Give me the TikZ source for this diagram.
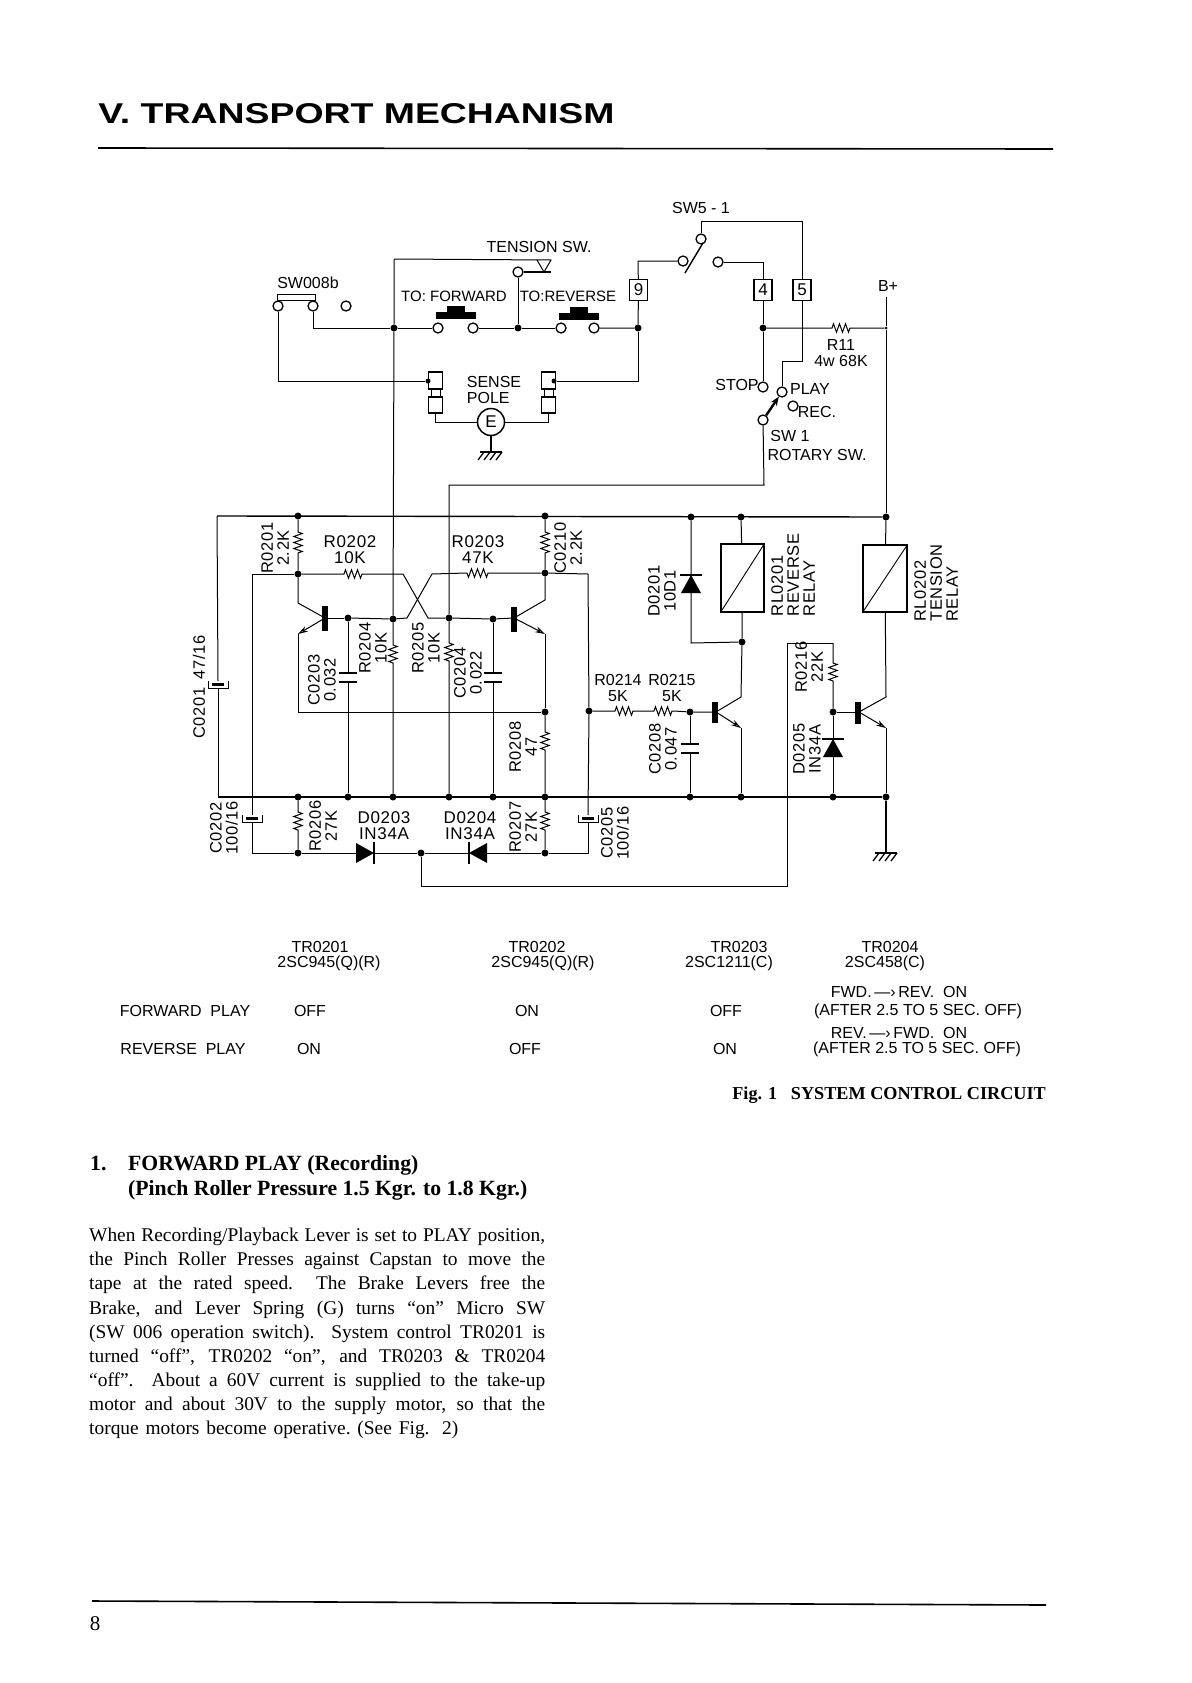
\documentclass[tikz,border=0pt]{standalone}
\usepackage{graphicx}
\usepackage{fontspec}
\setmainfont{Liberation Serif}
\newfontfamily\lettering{Liberation Sans}
\newfontfamily\partletter[LetterSpace=4]{Liberation Sans}
\usetikzlibrary{arrows.meta,decorations.pathmorphing}
\newcommand{\bodyline}[1]{\makebox[456pt][s]{#1}}
\tikzset{
  lab/.style={font=\lettering\fontsize{16}{16}\selectfont,inner sep=0pt,align=center},
  lableft/.style={lab,align=left},
  narrowlab/.style={lab,font=\lettering\fontsize{15}{16}\selectfont},
  partlab/.style={lab,font=\partletter\fontsize{17}{16}\selectfont},
  vlab/.style={lab,font=\partletter\fontsize{16.5}{16}\selectfont,rotate=90},
  vlableft/.style={vlab,align=left},
  tablab/.style={font=\lettering\fontsize{16}{16}\selectfont,inner sep=0pt},
  dot/.style={circle,fill=black,inner sep=0pt,minimum size=7pt},
  contact/.style={circle,draw,fill=white,line width=1.3pt,inner sep=0pt,minimum size=10pt},
  numbox/.style={draw,fill=white,line width=1.2pt,inner sep=0pt,minimum width=18pt,minimum height=21pt,font=\lettering\fontsize{17}{17}\selectfont},
  senseblock/.style={draw,line width=1.2pt,inner sep=0pt,minimum width=14pt,minimum height=17pt},
  relay/.style={draw,line width=1.2pt,inner sep=0pt},
  wire/.style={line width=1pt},
  toprail/.style={line width=1.4pt},
  rail/.style={line width=1.9pt},
  zig/.style={decoration={zigzag,amplitude=4.2pt,segment length=6pt}},
  tbar/.style={line width=5.5pt},
  emit/.style={line width=1pt,-{Stealth[open,length=10pt,width=6pt]}},
  gnd/.pic={
    \draw[line width=1.4pt] (-11,0) -- (11,0);
    \foreach \i in {-7,-1,5,11} \draw[line width=1.3pt] (\i,0) -- ++(-6,8);
  },
  plates/.pic={
    \draw[line width=1.7pt] (-9,0) -- (9,0);
    \draw[line width=1.7pt] (-9,9) -- (9,9);
  },
  polcap/.pic={
    \fill (-6,2) rectangle (6,5);
    \draw[line width=1pt] (-10,0) -- (-10,7) -- (10,7) -- (10,0);
  },
  diode/.pic={
    \fill (0,-9) -- (10,9) -- (-10,9) -- cycle;
    \draw[line width=1.9pt] (-11,-9) -- (11,-9);
  },
  pushbtn/.pic={
    \fill (-20,0) rectangle (20,7);
    \fill (-9,-6) rectangle (9,0);
  },
}
\begin{document}
\begin{tikzpicture}[x=1pt,y=-1pt]
\useasboundingbox (0,0) rectangle (1191,1683);
\fill[white] (0,0) rectangle (1191,1683);

% page head and foot
\node[inner sep=0pt] (title) at (356.5,113.5) {\resizebox{516pt}{20pt}{\lettering\bfseries V. TRANSPORT MECHANISM}};
\coordinate (headL) at (98,148);
\coordinate (headR) at (1053,149);
\draw[line width=1.6pt] (headL) -- (headR);
\coordinate (footL) at (92,1601);
\coordinate (footR) at (1046,1605);
\draw[line width=1.6pt] (footL) -- (footR);
\node[inner sep=0pt,font=\fontsize{21}{21}\selectfont] (pageno) at (95,1624) {8};

% junctions
\node[dot] (tA) at (298,516) {};
\node[dot] (tB) at (545,516) {};
\node[dot] (tC) at (691,517) {};
\node[dot] (tD) at (741,517) {};
\node[dot] (tE) at (886,517) {};
\node[dot] (c1) at (298,574) {};
\node[dot] (c2) at (545,573) {};
\node[dot] (m1) at (348,618) {};
\node[dot] (m2) at (393,619) {};
\node[dot] (m3) at (449,618) {};
\node[dot] (m4) at (493,619) {};
\node[dot] (n1) at (545,712) {};
\node[dot] (n2) at (589,711) {};
\node[dot] (n3) at (690,712) {};
\node[dot] (n4) at (742,642) {};
\node[dot] (n5) at (833,712) {};
\foreach \nm/\px in {b1/298,b2/348,b3/393,b4/449,b5/493,b6/545,b7/690,b8/741,b9/833,b10/886}
  \node[dot] (\nm) at (\px,797) {};
\node[dot] (d1) at (298,853) {};
\node[dot] (d2) at (421,853) {};
\node[dot] (d3) at (545,853) {};
\node[dot] (s1) at (394,328) {};
\node[dot] (s2) at (518,328) {};
\node[dot] (s3) at (638,328) {};
\node[dot] (s4) at (763,328) {};
\node[dot,minimum size=3pt] (s5) at (886,328) {};

% contacts
\node[contact] (swA) at (278,306) {};
\node[contact] (swB) at (313,306) {};
\node[contact] (swC) at (346,306) {};
\node[contact] (fwdA) at (438,328) {};
\node[contact] (fwdB) at (473,328) {};
\node[contact] (revA) at (561,328) {};
\node[contact] (revB) at (594,328) {};
\node[contact] (tens) at (518,272) {};
\node[contact] (fiveA) at (683,261) {};
\node[contact] (fiveB) at (718,262) {};
\node[contact] (fiveC) at (701,239) {};
\node[contact] (stop) at (763,387) {};
\node[contact] (play) at (782,392) {};
\node[contact] (rec) at (793,406) {};
\node[contact] (wiper) at (763,420) {};
\node[numbox] (nine) at (638.5,290) {9};
\node[numbox] (four) at (763,290) {4};
\node[numbox] (five) at (802,290) {5};

% upper switches
\node[draw,fill=white,line width=1pt,inner sep=0pt,minimum width=38pt,minimum height=6pt] (swbar) at (296,297) {};
\pic at (455.5,312) {pushbtn};
\pic at (579,313) {pushbtn};
\coordinate (tenTop) at (394,259);
\coordinate (tenEnd) at (551,272);
\coordinate (triA) at (537,260);
\coordinate (triB) at (551,260);
\coordinate (triC) at (544,272);
\draw[wire] (tenTop) -- (triB) -- (triC) -- (triA);
\draw[line width=1.6pt] (tens) -- (tenEnd);
\draw[wire] (tens) -- (s2);
\draw[wire] (swB) |- (s1) -- (fwdA);
\draw[wire] (fwdB) -- (s2) -- (revA);
\draw[wire] (revB) -- (s3) -- (nine);
\coordinate (nineTop) at (638,261);
\draw[wire] (nine) -- (nineTop) -- (fiveA);
\coordinate (bladeA) at (685,273);
\coordinate (bladeB) at (703,243);
\draw[line width=1.4pt] (bladeA) -- (bladeB);
\coordinate (fiveTop) at (802,221);
\draw[wire] (fiveC) |- (fiveTop) -- (five);
\coordinate (fiveLow) at (802,361);
\coordinate (playTop) at (782,361);
\draw[wire] (five) -- (fiveLow) -- (playTop) -- (play);
\coordinate (fourTop) at (763,262);
\draw[wire] (fiveB) -- (fourTop) -- (four);
\draw[wire] (four) -- (s4) -- (stop);
\draw[wire] (s4) -- ++(69,0) decorate[zig]{ -- ++(20,0)} -- (s5);
\draw[line width=2.4pt,-{Stealth[length=9pt,width=7pt]}] (wiper) -- (play);

% sense pole
\node[senseblock] (poleLa) at (435.5,380.5) {};
\node[senseblock,minimum height=16pt] (poleLb) at (435.5,405) {};
\node[draw,line width=1pt,inner sep=0pt,minimum width=9pt,minimum height=8pt] (poleLn) at (435.5,393) {};
\node[senseblock] (poleRa) at (548.5,380.5) {};
\node[senseblock,minimum height=16pt] (poleRb) at (548.5,405) {};
\node[draw,line width=1pt,inner sep=0pt,minimum width=9pt,minimum height=8pt] (poleRn) at (548.5,393) {};
\node[dot,minimum size=5pt] (poleLd) at (428,381) {};
\node[dot,minimum size=5pt] (poleRd) at (554,381) {};
\node[circle,draw,line width=1.5pt,inner sep=0pt,minimum size=27pt,font=\lettering\fontsize{17}{17}\selectfont] (earth) at (491,422) {E};
\draw[wire] (swA) |- (poleLd);
\draw[wire] (s3) |- (poleRd);
\draw[wire] (poleLb.south) |- (earth);
\draw[wire] (poleRb.south) |- (earth);
\coordinate (gndA) at (491,452);
\draw[line width=1.3pt] (earth) -- (gndA);
\pic at (gndA) {gnd};

% long wires from the top part to the rail
\draw[wire] (tenTop) -- (s1) -- (m2);
\draw[wire] (m2) -- ++(0,26) decorate[zig]{ -- ++(0,19)} -- (b3);
\coordinate (rotCorner) at (764,485);
\coordinate (rotLeft) at (449,485);
\draw[wire] (wiper) -- (rotCorner) -- (rotLeft) -- (m3);
\draw[wire] (m3) -- ++(0,25) decorate[zig]{ -- ++(0,18)} -- (b4);
\coordinate (bplus) at (886,297);
\draw[wire] (bplus) -- (s5) -- (tE);

% supply rails
\coordinate (railL) at (217,516);
\coordinate (railLo) at (218,797);
\draw[toprail] (railL) -- (tE);
\draw[rail] (railLo) -- (b10);
\coordinate (capA) at (218,681);
\coordinate (capAlow) at (218,688);
\draw[wire] (railL) -- (capA);
\draw[wire] (capAlow) -- (railLo);
\pic at (capA) {polcap};

% left and right stage
\draw[wire] (tA) -- ++(0,16) decorate[zig]{ -- ++(0,23)} -- (c1);
\draw[wire] (tB) -- ++(0,16) decorate[zig]{ -- ++(0,23)} -- (c2);
\coordinate (leftEnd) at (252,574);
\coordinate (rightEnd) at (588,574);
\coordinate (crossA) at (403,574);
\coordinate (crossB) at (428,618);
\coordinate (crossC) at (432,574);
\coordinate (crossD) at (407,618);
\draw[wire] (c1) -- ++(46,0) decorate[zig]{ -- ++(20,0)} -- (crossA) -- (crossB) -- (m3) -- (m4);
\draw[wire] (c2) -- ++(-57,0) decorate[zig]{ -- ++(-21,0)} -- (crossC) -- (crossD) -- (m2) -- (m1);
\draw[wire] (leftEnd) -- (c1);
\draw[wire] (c2) -- (rightEnd);
\coordinate (baseL) at (325,618);
\coordinate (baseR) at (514,618);
\draw[tbar] (325,606) -- (325,631);
\draw[tbar] (514,607) -- (514,632);
\draw[wire] (m1) -- (baseL);
\draw[wire] (m4) -- (baseR);
\coordinate (colL) at (298,603);
\coordinate (emiL) at (298,634);
\coordinate (colR) at (545,600);
\coordinate (emiR) at (545,634);
\draw[wire] (c1) -- (colL) -- (baseL);
\draw[wire] (c2) -- (colR) -- (baseR);
\draw[emit] (baseL) -- (emiL);
\draw[emit] (baseR) -- (emiR);
\draw[wire] (emiL) |- (n1);
\draw[wire] (emiR) -- (n1);
\draw[wire] (n1) -- ++(0,20) decorate[zig]{ -- ++(0,18)} -- (b6);

\coordinate (plA) at (348,673);
\coordinate (plAlow) at (348,682);
\coordinate (plB) at (493,673);
\coordinate (plBlow) at (493,682);
\draw[wire] (m1) -- (plA);
\draw[wire] (plAlow) -- (b2);
\draw[wire] (m4) -- (plB);
\draw[wire] (plBlow) -- (b5);
\pic at (plA) {plates};
\pic at (plB) {plates};

% below the rail
\coordinate (capB) at (252,815);
\coordinate (capBlow) at (252,822);
\coordinate (capC) at (588,815);
\coordinate (capClow) at (588,822);
\coordinate (loL) at (252,853);
\coordinate (loR) at (588,853);
\draw[wire] (leftEnd) -- (capB);
\draw[wire] (rightEnd) -- (n2) -- (capC);
\pic at (capB) {polcap};
\pic at (capC) {polcap};
\draw[wire] (capBlow) -- (loL) -- (d1);
\draw[wire] (capClow) -- (loR) -- (d3);
\draw[wire] (b1) -- ++(0,15) decorate[zig]{ -- ++(0,20)} -- (d1);
\draw[wire] (b6) -- ++(0,15) decorate[zig]{ -- ++(0,20)} -- (d3);
\draw[wire] (d1) -- (d2) -- (d3);
\pic[rotate=-90] at (365,853) {diode};
\pic[rotate=90] at (478,853) {diode};
\coordinate (loopA) at (421,886);
\coordinate (loopB) at (787,886);
\coordinate (loopC) at (787,643);
\coordinate (loopD) at (833,643);
\draw[wire] (d2) -- (loopA) -- (loopB) -- (loopC) -- (loopD);
\draw[wire] (loopD) -- ++(0,20) decorate[zig]{ -- ++(0,19)} -- (n5);
\draw[wire] (n5) -- (b9);
\pic at (833,748) {diode};

% relays and drivers
\node[relay,minimum width=43pt,minimum height=68pt] (relayA) at (742.5,578) {};
\node[relay,minimum width=44pt,minimum height=67pt] (relayB) at (885,578.5) {};
\draw[line width=0.9pt] (relayA.south west) -- (relayA.north east);
\draw[line width=0.9pt] (relayB.south west) -- (relayB.north east);
\draw[wire] (tD) -- (relayA);
\draw[wire] (tE) -- (relayB);
\coordinate (colA) at (741,697);
\coordinate (colB) at (886,697);
\coordinate (baseA) at (716,712);
\coordinate (baseB) at (859,712);
\coordinate (emiA) at (741,728);
\coordinate (emiB) at (886,728);
\draw[wire] (relayA) -- (n4) -- (colA) -- (baseA);
\draw[wire] (relayB) -- (colB) -- (baseB);
\draw[emit] (baseA) -- (emiA);
\draw[emit] (baseB) -- (emiB);
\draw[wire] (emiA) -- (b8);
\draw[wire] (emiB) -- (b10);
\draw[tbar] (715,702) -- (715,723);
\draw[tbar] (858,702) -- (858,724);
\draw[wire] (n2) -- ++(26,0) decorate[zig]{ -- ++(20,0)} -- ++(19,0) decorate[zig]{ -- ++(20,0)} -- (n3) -- (baseA);
\draw[wire] (n5) -- (baseB);
\coordinate (ledCorner) at (691,643);
\draw[wire] (tC) -- (ledCorner) -- (n4);
\pic at (691,584) {diode};
\coordinate (plC) at (690,744);
\coordinate (plClow) at (690,753);
\draw[wire] (n3) -- (plC);
\draw[wire] (plClow) -- (b7);
\pic at (plC) {plates};
\coordinate (gndB) at (886,853);
\draw[line width=1.9pt] (b10) -- (gndB);
\pic at (gndB) {gnd};

% labels of the upper part
\node[lab] (lbSwitch) at (308,283) {SW008b};
\node[lab] (lbTension) at (539,247) {TENSION SW.};
\node[narrowlab] (lbForward) at (454,296) {TO: FORWARD};
\node[narrowlab] (lbReverse) at (568,296) {TO:REVERSE};
\node[lableft] (lbSense) at (494,390) {SENSE\\POLE};
\node[lab] (lbFive) at (701,208) {SW5 - 1};
\node[lab] (lbBplus) at (888,286) {B+};
\node[lab] (lbRes) at (841,353) {R11\\4w 68K};
\node[lab] (lbStop) at (737,385) {STOP};
\node[lab] (lbPlay) at (810,389) {PLAY};
\node[lab] (lbRec) at (817,412) {REC.};
\node[lab] (lbSwOne) at (790,436) {SW 1};
\node[lab] (lbRotary) at (817,455) {ROTARY SW.};

% labels of the main board
\node[vlab] (lbRa) at (275,548) {R0201\\2.2K};
\node[partlab] (lbRb) at (350,550) {R0202\\10K};
\node[partlab] (lbRc) at (478,550) {R0203\\47K};
\node[vlab] (lbCj) at (568,548) {C0210\\2.2K};
\node[vlab] (lbCa) at (199,687) {C0201\enspace 47/16};
\node[vlab] (lbRd) at (373,648) {R0204\\10K};
\node[vlab] (lbRe) at (426,648) {R0205\\10K};
\node[vlab] (lbCc) at (322,680) {C0203\\0.032};
\node[vlab] (lbCd) at (468,673) {C0204\\0.022};
\node[vlab] (lbRh) at (523,747) {R0208\\47};
\node[vlab] (lbCb) at (224,828) {C0202\\100/16};
\node[vlab] (lbRf) at (323,826) {R0206\\27K};
\node[vlab] (lbRg) at (523,827) {R0207\\27K};
\node[partlab] (lbDc) at (384,826) {D0203\\IN34A};
\node[partlab] (lbDd) at (470,826) {D0204\\IN34A};
\node[vlab] (lbCe) at (615,833) {C0205\\100/16};
\node[vlab] (lbDa) at (662,591) {D0201\\10D1};
\node[vlableft] (lbRelayA) at (793,575) {RL0201\\REVERSE\\RELAY};
\node[vlableft] (lbRelayB) at (936,583) {RL0202\\TENSION\\RELAY};
\node[lab] (lbRn) at (618,688) {R0214\\5K};
\node[lab] (lbRo) at (672,688) {R0215\\5K};
\node[vlab] (lbCh) at (663,749) {C0208\\0.047};
\node[vlab] (lbRp) at (809,667) {R0216\\22K};
\node[vlab] (lbDe) at (807,749) {D0205\\IN34A};

% table
\node[tablab] (tbA) at (320,947) {TR0201};
\node[tablab] (tbAt) at (329,963) {2SC945(Q)(R)};
\node[tablab] (tbB) at (537,947) {TR0202};
\node[tablab] (tbBt) at (543,963) {2SC945(Q)(R)};
\node[tablab] (tbC) at (739,947) {TR0203};
\node[tablab] (tbCt) at (729,963) {2SC1211(C)};
\node[tablab] (tbD) at (890,947) {TR0204};
\node[tablab] (tbDt) at (885,963) {2SC458(C)};
\node[tablab] (tbFwd) at (185,1011) {FORWARD\ \ PLAY};
\node[tablab] (tbRev) at (183,1049) {REVERSE\ \ PLAY};
\node[tablab] (tbFa) at (310,1011) {OFF};
\node[tablab] (tbFb) at (527,1011) {ON};
\node[tablab] (tbFc) at (726,1011) {OFF};
\node[tablab] (tbRa) at (309,1049) {ON};
\node[tablab] (tbRb) at (525,1049) {OFF};
\node[tablab] (tbRc) at (725,1049) {ON};
\node[tablab] (tbFe) at (899,992) {FWD.\,—›\,REV.\ \ ON};
\node[tablab] (tbFf) at (918,1011) {(AFTER 2.5 TO 5 SEC. OFF)};
\node[tablab] (tbRe) at (899,1033) {REV.\,—›\,FWD.\ \ ON};
\node[tablab] (tbRf) at (917,1049) {(AFTER 2.5 TO 5 SEC. OFF)};
\node[inner sep=0pt,anchor=east,font=\bfseries\fontsize{18.2}{18}\selectfont] (caption) at (1046,1095) {Fig. 1\hspace{0.75em}SYSTEM CONTROL CIRCUIT};

% text
\node[inner sep=0pt,anchor=base west,font=\bfseries\fontsize{21.7}{21}\selectfont] (headNo) at (90,1170) {1.};
\node[inner sep=0pt,anchor=base west,font=\bfseries\fontsize{21.7}{21}\selectfont] (headA) at (128,1170) {FORWARD PLAY (Recording)};
\node[inner sep=0pt,anchor=base west,font=\bfseries\fontsize{21.7}{21}\selectfont] (headB) at (128,1195) {(Pinch Roller Pressure 1.5 Kgr. to 1.8 Kgr.)};
\node[inner sep=0pt,anchor=north west,align=left,font=\fontsize{19.4}{24.15}\selectfont] (body) at (89,1228) {%
\bodyline{When Recording/Playback Lever is set to PLAY position,}\\
\bodyline{the Pinch Roller Presses against Capstan to move the}\\
\bodyline{tape at the rated speed.\ \ The Brake Levers free the}\\
\bodyline{Brake, and Lever Spring (G) turns “on” Micro SW}\\
\bodyline{(SW 006 operation switch).\ \ System control TR0201 is}\\
\bodyline{turned “off”, TR0202 “on”, and TR0203 \& TR0204}\\
\bodyline{“off”.\ \ About a 60V current is supplied to the take-up}\\
\bodyline{motor and about 30V to the supply motor, so that the}\\
\makebox[369pt][s]{torque motors become operative.\ (See Fig. 2)}};
\end{tikzpicture}
\end{document}
